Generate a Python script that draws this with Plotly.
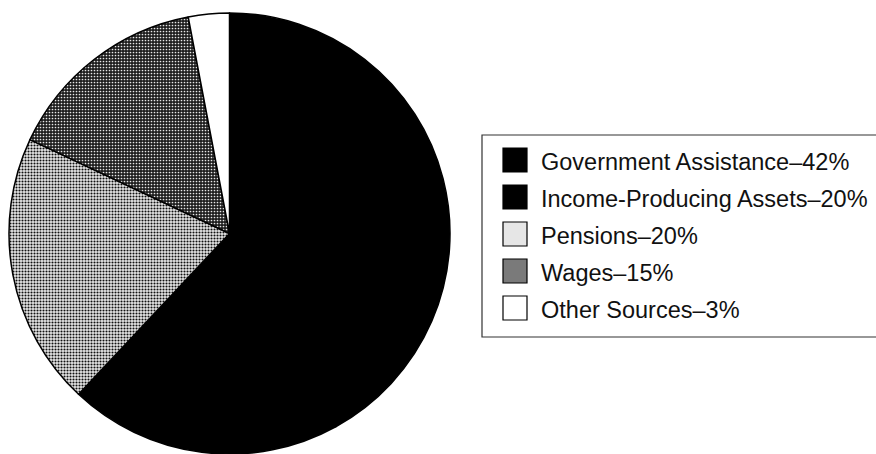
import plotly.graph_objects as go

# ---- data ----
categories = ["Government Assistance", "Income-Producing Assets", "Pensions", "Wages", "Other Sources"]
shares = [42, 20, 20, 15, 3]
dash_chars = ["–", "–", "–", "–", "–"]

# ---- styles ----
slice_colors = ["#000000", "#000000", "#e8e8e8", "#1e1e1e", "#ffffff"]
pattern_shapes = ["", "", ".", ".", ""]
pattern_fg = ["#000000", "#000000", "#111111", "#e8e8e8", "#000000"]
pattern_solidity = [0.2, 0.2, 0.4, 0.25, 0.2]
swatch_colors = ["#000000", "#000000", "#e6e6e6", "#7a7a7a", "#ffffff"]

W, H = 876, 454

fig = go.Figure()
fig.add_trace(go.Pie(
    labels=categories,
    values=shares,
    sort=False,
    direction="clockwise",
    rotation=0,
    textinfo="none",
    hoverinfo="label+percent",
    showlegend=False,
    domain=dict(x=[9 / W, 450 / W], y=[0, 441 / H]),
    marker=dict(
        colors=slice_colors,
        line=dict(color="#000000", width=1.5),
        pattern=dict(shape=pattern_shapes, fgcolor=pattern_fg, bgcolor=slice_colors,
                     size=3, solidity=pattern_solidity, fillmode="replace"),
    ),
))

# ---- legend drawn as a framed box ----
def py(ypix):
    return 1 - ypix / H

shapes = [dict(type="rect", xref="paper", yref="paper",
               x0=482 / W, x1=900 / W, y0=py(337), y1=py(135),
               line=dict(color="#333333", width=1.2), fillcolor="rgba(0,0,0,0)")]
annotations = []
row0, step = 160, 37
for i, (cat, v, d) in enumerate(zip(categories, shares, dash_chars)):
    yc = row0 + step * i
    shapes.append(dict(type="rect", xref="paper", yref="paper",
                       x0=503 / W, x1=527 / W, y0=py(yc + 12), y1=py(yc - 12),
                       line=dict(color="#000000", width=1.2), fillcolor=swatch_colors[i]))
    annotations.append(dict(xref="paper", yref="paper", x=539 / W, y=py(yc + 2),
                            xanchor="left", yanchor="middle", showarrow=False,
                            text=f"{cat}{d}{v}%",
                            font=dict(family="Liberation Sans, Arial, sans-serif", size=23.5, color="#111111")))

fig.update_layout(
    width=W, height=H,
    margin=dict(l=0, r=0, t=0, b=0),
    paper_bgcolor="white", plot_bgcolor="white",
    shapes=shapes, annotations=annotations,
)

fig.write_html("out.html")
